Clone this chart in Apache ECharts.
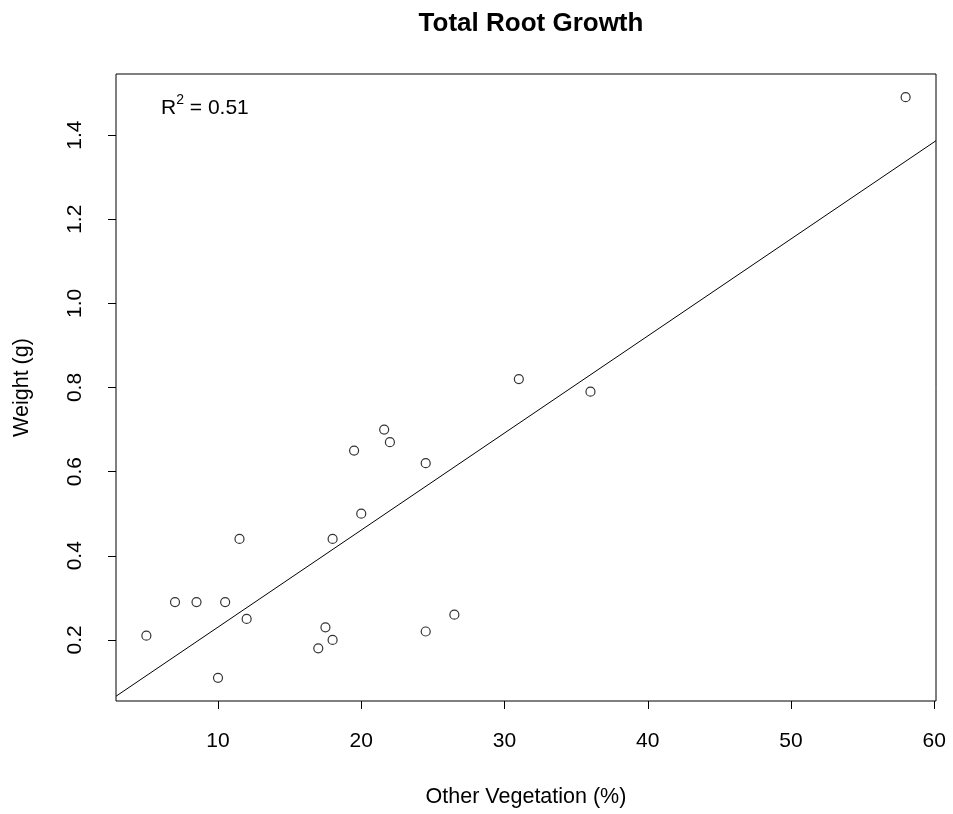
<!DOCTYPE html>
<html>
<head>
<meta charset="utf-8">
<script src="https://cdn.jsdelivr.net/npm/echarts@6/dist/echarts.min.js"></script>
<style>
  html, body { margin: 0; padding: 0; background: #ffffff; }
  #main { width: 953px; height: 814px; }
</style>
</head>
<body>
<div id="main"></div>
<script>
// values
const vegetation = [5, 7, 8.5, 10.5, 10, 11.5, 12, 17, 17.5, 18, 18, 19.5, 20, 21.6, 22, 24.5, 24.5, 26.5, 31, 36, 58];
const weight = [0.21, 0.29, 0.29, 0.29, 0.11, 0.44, 0.25, 0.18, 0.23, 0.2, 0.44, 0.65, 0.5, 0.7, 0.67, 0.62, 0.22, 0.26, 0.82, 0.79, 1.49];
const xTicks = [10, 20, 30, 40, 50, 60];
const yTicks = [0.2, 0.4, 0.6, 0.8, 1.0, 1.2, 1.4];
const rSquaredText = '0.51';

// R-style axis range: data range padded by 4% on each side
const pad = (arr) => {
    const lo = Math.min(...arr), hi = Math.max(...arr);
    const d = (hi - lo) * 0.04;
    return [lo - d, hi + d];
};
const [xMin, xMax] = pad(vegetation);
const [yMin, yMax] = pad(weight);

// least squares fit for the trend line
const n = vegetation.length;
const mx = vegetation.reduce((a, b) => a + b, 0) / n;
const my = weight.reduce((a, b) => a + b, 0) / n;
let sxy = 0, sxx = 0;
for (let i = 0; i < n; i++) {
    sxy += (vegetation[i] - mx) * (weight[i] - my);
    sxx += (vegetation[i] - mx) * (vegetation[i] - mx);
}
const slope = sxy / sxx;
const intercept = my - slope * mx;
const fitLine = [xMin, xMax].map(x => [x, intercept + slope * x]);

const points = vegetation.map((x, i) => [x, weight[i]]);

const chart = echarts.init(document.getElementById('main'));
const font = 'Liberation Sans, Arial, sans-serif';

chart.setOption({
    backgroundColor: '#ffffff',
    animation: false,
    title: {
        text: 'Total Root Growth',
        left: 526,
        top: 6,
        textAlign: 'center',
        textStyle: { fontFamily: font, fontSize: 26, fontWeight: 'bold', color: '#000' }
    },
    grid: {
        left: 116,
        right: 17,
        top: 74,
        bottom: 113,
        show: true,
        borderColor: '#000',
        borderWidth: 1,
        backgroundColor: 'transparent'
    },
    xAxis: {
        type: 'value',
        min: xMin,
        max: xMax,
        name: 'Other Vegetation (%)',
        nameLocation: 'middle',
        nameGap: 85,
        nameTextStyle: { fontFamily: font, fontSize: 21.5, color: '#000' },
        axisLine: { show: false },
        splitLine: { show: false },
        axisTick: { show: true, length: 8, customValues: xTicks, lineStyle: { color: '#000' } },
        axisLabel: {
            customValues: xTicks,
            margin: 30,
            fontFamily: font,
            fontSize: 21,
            color: '#000'
        }
    },
    yAxis: {
        type: 'value',
        min: yMin,
        max: yMax,
        name: 'Weight (g)',
        nameLocation: 'middle',
        nameGap: 83,
        nameTextStyle: { fontFamily: font, fontSize: 21.5, color: '#000' },
        axisLine: { show: false },
        splitLine: { show: false },
        axisTick: { show: true, length: 8, customValues: yTicks, lineStyle: { color: '#000' } },
        axisLabel: {
            customValues: yTicks,
            rotate: 90,
            margin: 30,
            align: 'center',
            verticalAlign: 'bottom',
            fontFamily: font,
            fontSize: 21,
            color: '#000',
            formatter: v => v.toFixed(1)
        }
    },
    graphic: [
        {
            type: 'text',
            left: 161,
            top: 93,
            style: {
                text: '{b|R}{s|2}{b| = ' + rSquaredText + '}',
                rich: {
                    b: { fontFamily: font, fontSize: 21, color: '#000', lineHeight: 26, verticalAlign: 'bottom' },
                    s: { fontFamily: font, fontSize: 14, color: '#000', lineHeight: 26, verticalAlign: 'top' }
                }
            }
        }
    ],
    series: [
        {
            type: 'line',
            data: fitLine,
            showSymbol: false,
            symbol: 'none',
            clip: true,
            lineStyle: { color: '#000', width: 1 },
            z: 2
        },
        {
            type: 'scatter',
            data: points,
            symbol: 'circle',
            symbolSize: 9,
            itemStyle: { color: 'rgba(0,0,0,0)', borderColor: '#000', borderWidth: 1.2 },
            z: 3
        }
    ]
});
</script>
</body>
</html>
